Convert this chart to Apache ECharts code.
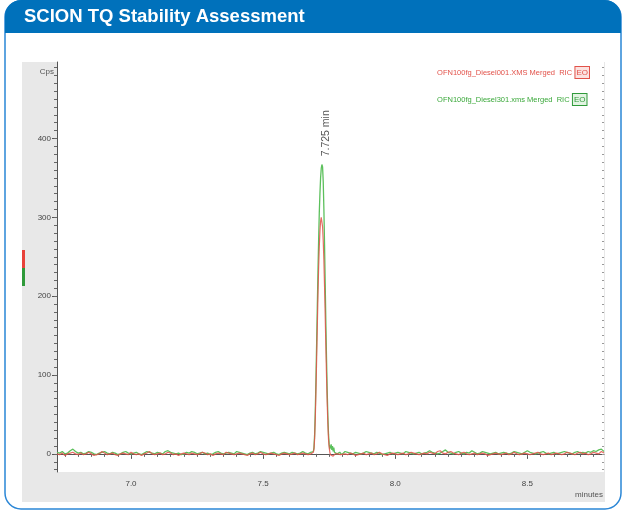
<!DOCTYPE html>
<html>
<head>
<meta charset="utf-8">
<script src="https://cdn.jsdelivr.net/npm/echarts@6/dist/echarts.min.js"></script>
<style>html,body{margin:0;padding:0;background:#fff}#c{width:623px;height:515px}</style>
</head>
<body>
<div id="c"></div>
<script>
// ---------- data ----------
const titleText = 'SCION TQ Stability Assessment';
const seriesNames = ['OFN100fg_Diesel001.XMS Merged  RIC', 'OFN100fg_Diesel301.xms Merged  RIC'];
const xTickLabels = [7.0, 7.5, 8.0, 8.5];
const yTickLabels = [0, 100, 200, 300, 400];
const xRange = [6.72, 8.79];
const yRange = [-23, 497];
const peakTime = 7.725, peakValue = 366, peakLabel = '7.725 min';

// sampling grids (minutes)
const segAStart = 6.72, segAStep = 0.01;     // 97 points
const peakStart = 7.6825, peakStep = 0.0025; // 48 points
const segBStart = 7.81, segBStep = 0.01;     // 99 points

// green trace (Diesel301)
const greenA = [
  2,1,3,0,1,4,6,3,1,2,
  0,1,3,2,0,-1,1,2,3,1,
  0,2,1,-1,0,2,3,1,0,1,
  2,0,-1,1,3,2,1,0,2,1,
  0,3,4,2,1,0,1,-1,0,2,
  1,3,2,0,1,2,0,1,-1,0,
  2,3,1,0,1,2,1,0,3,2,
  1,0,-1,1,2,0,1,3,2,1,
  0,1,2,0,-1,1,2,1,0,2,
  1,0,1,3,1,0,2
];
const greenPeak = [
  1,2,0,3,8,25,55,95,140,185,
  230,270,305,330,350,362,367,364,345,310,
  265,215,165,120,80,48,25,12,6,4,
  12,5,10,3,8,2,4,1,3,0,
  2,1,-1,2,0,1,-1,1
];
const greenB = [
  3,2,1,0,2,1,0,1,3,2,
  1,0,2,1,-1,0,1,2,0,1,
  2,1,0,3,2,1,0,1,2,0,
  1,2,4,2,1,0,1,3,5,2,
  1,0,2,3,1,0,2,1,4,2,
  0,1,3,2,1,0,1,2,0,1,
  2,1,0,1,3,2,1,0,2,4,
  2,1,0,1,2,3,1,0,1,2,
  0,1,2,3,2,1,0,2,3,1,
  2,1,3,2,4,3,5,6,3
];
// red trace (Diesel001)
const redA = [
  0,-1,1,-2,0,1,2,0,-1,1,
  -1,0,2,0,-2,-1,0,3,1,-1,
  0,1,-1,-2,0,1,0,-1,2,0,
  -1,0,-2,0,1,3,0,-1,0,1,
  -1,0,2,1,-1,0,-2,0,1,0,
  -1,1,0,-1,0,2,1,-1,0,-2,
  0,1,0,-1,2,1,0,-1,0,1,
  0,-1,-2,0,1,-1,0,2,0,-1,
  0,1,0,-1,-2,0,1,0,-1,0,
  1,-1,0,1,0,-1,0
];
const redPeak = [
  0,-1,1,2,6,20,45,80,120,160,
  200,235,262,282,295,300,298,288,270,245,
  212,175,135,98,65,38,18,8,2,-1,
  -2,0,-1,-3,-1,-2,0,-1,1,-1,
  0,-2,0,1,-1,0,1,-1
];
const redB = [
  0,-1,1,0,-2,-1,0,1,-1,0,
  1,-1,0,2,0,-1,-2,0,1,0,
  -1,0,1,-1,0,2,1,0,-1,0,
  1,0,2,1,0,3,4,1,0,2,
  3,1,0,-1,1,2,0,-1,0,1,
  -1,0,1,0,-2,-1,0,1,0,-1,
  0,1,-1,0,2,0,-1,0,1,0,
  -1,0,1,2,0,-1,0,1,-1,0,
  1,0,-1,0,2,1,0,-1,1,2,
  0,1,-1,0,2,1,0,3,1
];

// ---------- build ----------
function pairs(start, step, vals) {
  return vals.map((v, i) => [+(start + i * step).toFixed(4), v]);
}
function trace(a, p, b) {
  return pairs(segAStart, segAStep, a).concat(pairs(peakStart, peakStep, p), pairs(segBStart, segBStep, b));
}
const greenData = trace(greenA, greenPeak, greenB);
const redData = trace(redA, redPeak, redB);

const minorX = []; for (let v = 6.75; v <= 8.78; v += 0.05) minorX.push(+v.toFixed(2));
const minorY = []; for (let v = -20; v <= 490; v += 10) minorY.push(v);

const FONT = '"Liberation Sans Narrow", "Liberation Sans", Arial, sans-serif';
const RED = '#e2524a', GREEN = '#5cc05c', BLUE = '#0071bb';

const chart = echarts.init(document.getElementById('c'), null, {renderer: 'canvas'});
chart.setOption({
  animation: false,
  backgroundColor: '#fff',
  graphic: [
    {type: 'rect', shape: {x: 5, y: 1, width: 616, height: 508, r: 16}, style: {fill: '#fff', stroke: '#2a86d6', lineWidth: 1.5}, z: -10},
    {type: 'rect', shape: {x: 5, y: 0, width: 616, height: 33, r: [16, 16, 0, 0]}, style: {fill: BLUE}, z: -9},
    {type: 'text', left: 24, top: 7, style: {text: titleText, fill: '#fff', font: 'bold 18.5px ' + FONT}, z: 10},
    {type: 'rect', shape: {x: 22, y: 62, width: 583, height: 440}, style: {fill: '#e8e8e8'}, z: -8},
    {type: 'rect', shape: {x: 22, y: 250, width: 3, height: 18}, style: {fill: '#e8423a'}, z: 5},
    {type: 'rect', shape: {x: 22, y: 268, width: 3, height: 18}, style: {fill: '#2f9a3a'}, z: 5},
    {type: 'text', right: 20, top: 491, style: {text: 'minutes', fill: '#555', font: '8px ' + FONT}, z: 10}
  ],
  legend: {
    orient: 'vertical', right: 28, top: 61, itemGap: 14, itemWidth: 0, itemHeight: 0,
    selectedMode: false, icon: 'rect', data: seriesNames,
    formatter: name => name === seriesNames[0] ? `{r|${name}} {rb|EO}` : `{g|${name}} {gb|EO}`,
    textStyle: {
      fontFamily: FONT,
      rich: {
        r: {color: RED, fontSize: 7.5, fontFamily: FONT},
        g: {color: '#3aa83a', fontSize: 7.5, fontFamily: FONT},
        rb: {color: RED, fontSize: 8, fontFamily: FONT, borderColor: RED, borderWidth: 1, backgroundColor: '#fbe2e0', padding: [2, 1, 1, 1]},
        gb: {color: '#2f9a3a', fontSize: 8, fontFamily: FONT, borderColor: '#2f9a3a', borderWidth: 1, backgroundColor: '#e2f4e2', padding: [2, 1, 1, 1]}
      }
    }
  },
  grid: {left: 57, right: 19, top: 62, bottom: 43, show: true, backgroundColor: '#fff', borderWidth: 0, containLabel: false},
  xAxis: [
    {type: 'value', min: xRange[0], max: xRange[1], position: 'bottom',
     axisLine: {show: true, lineStyle: {color: '#555', width: 1}},
     axisTick: {show: true, customValues: xTickLabels, length: 5, lineStyle: {color: '#555'}},
     axisLabel: {show: true, customValues: xTickLabels, formatter: v => v.toFixed(1), color: '#444', fontSize: 8, fontFamily: FONT, margin: 8},
     splitLine: {show: false}},
    {type: 'value', min: xRange[0], max: xRange[1], position: 'bottom',
     axisLine: {show: false}, axisTick: {show: true, customValues: minorX, length: 3, lineStyle: {color: '#666'}},
     axisLabel: {show: false}, splitLine: {show: false}}
  ],
  yAxis: [
    {type: 'value', min: yRange[0], max: yRange[1], position: 'left',
     name: 'Cps', nameLocation: 'end', nameGap: -14,
     nameTextStyle: {color: '#555', fontSize: 8, fontFamily: FONT, align: 'right', padding: [0, 3, 0, 0]},
     axisLine: {show: true, lineStyle: {color: '#555', width: 1}},
     axisTick: {show: true, customValues: yTickLabels, length: 5, lineStyle: {color: '#555'}},
     axisLabel: {show: true, customValues: yTickLabels, color: '#444', fontSize: 8, fontFamily: FONT, margin: 6},
     splitLine: {show: false}},
    {type: 'value', min: yRange[0], max: yRange[1], position: 'left',
     axisLine: {show: false}, axisTick: {show: true, customValues: minorY, length: 3, lineStyle: {color: '#666'}},
     axisLabel: {show: false}, splitLine: {show: false}},
    {type: 'value', min: yRange[0], max: yRange[1], position: 'right',
     axisLine: {show: false}, axisTick: {show: true, inside: true, customValues: minorY, length: 2, lineStyle: {color: '#999'}},
     axisLabel: {show: false}, splitLine: {show: false}}
  ],
  series: [
    {name: seriesNames[1], type: 'line', data: greenData, showSymbol: false, symbol: 'none',
     lineStyle: {color: GREEN, width: 1.3}, itemStyle: {color: GREEN},
     markPoint: {symbol: 'circle', symbolSize: 0, silent: true,
       data: [{coord: [peakTime, peakValue]}],
       label: {show: true, formatter: peakLabel, rotate: 90, position: 'inside', offset: [32, 4], color: '#555', fontSize: 10.5, fontFamily: FONT}}},
    {name: seriesNames[0], type: 'line', data: redData, showSymbol: false, symbol: 'none',
     lineStyle: {color: RED, width: 1.2, opacity: 0.85}, itemStyle: {color: RED}}
  ]
});
</script>
</body>
</html>
